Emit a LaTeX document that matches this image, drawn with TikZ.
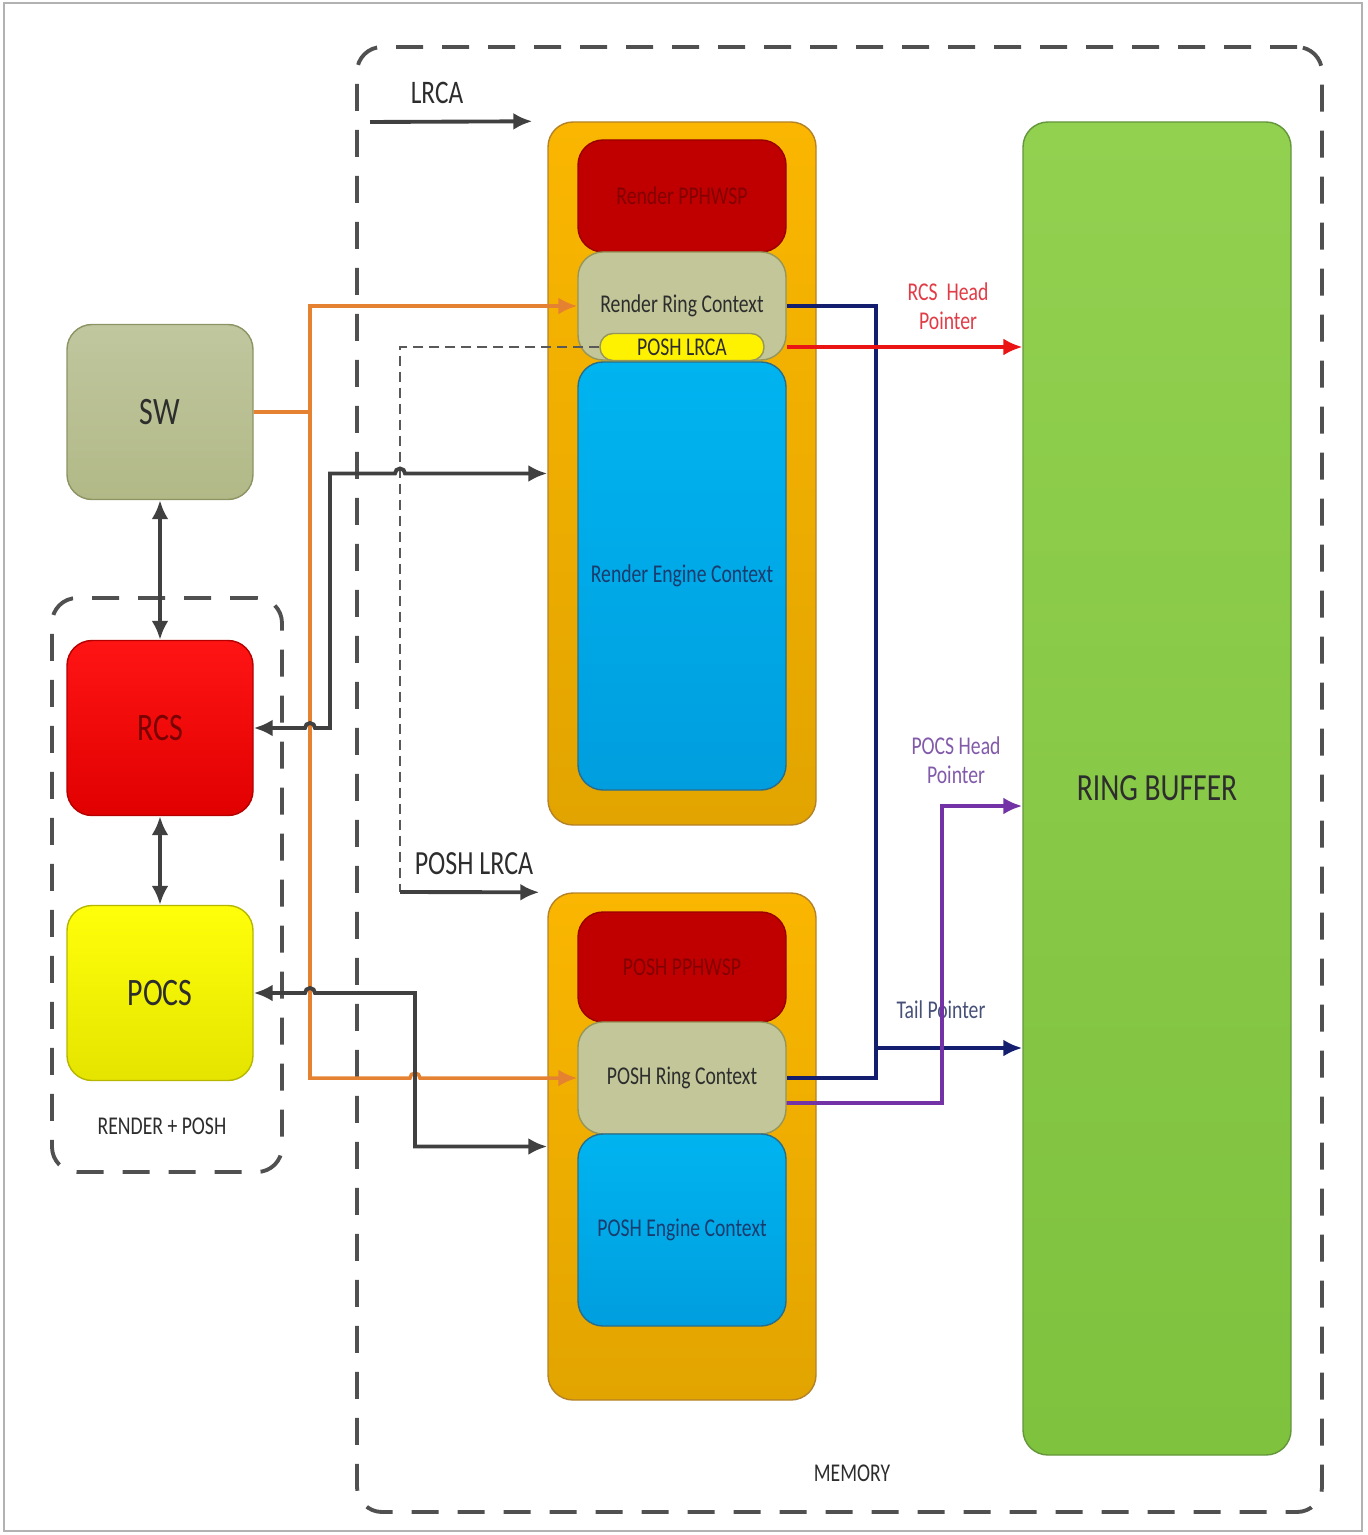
\documentclass[tikz,border=0pt]{standalone}
\usepackage{fontspec}
\setmainfont{Carlito}
\usepackage{graphicx}
\usetikzlibrary{arrows.meta,positioning,calc}
\definecolor{memline}{RGB}{80,80,80}
\definecolor{wireline}{RGB}{64,64,64}
\definecolor{darktext}{RGB}{45,45,45}
\definecolor{swtop}{RGB}{192,198,158}
\definecolor{swbot}{RGB}{178,185,135}
\definecolor{swedge}{RGB}{140,148,100}
\definecolor{rcstop}{RGB}{255,20,20}
\definecolor{rcsbot}{RGB}{225,0,0}
\definecolor{rcstext}{RGB}{120,0,0}
\definecolor{pocstop}{RGB}{255,255,10}
\definecolor{pocsbot}{RGB}{228,228,0}
\definecolor{ctxtop}{RGB}{250,182,0}
\definecolor{ctxbot}{RGB}{226,164,0}
\definecolor{ctxedge}{RGB}{180,130,40}
\definecolor{pphred}{RGB}{192,0,0}
\definecolor{pphtext}{RGB}{130,0,0}
\definecolor{ringolive}{RGB}{194,198,152}
\definecolor{ringedge}{RGB}{150,150,90}
\definecolor{engtop}{RGB}{0,180,240}
\definecolor{engbot}{RGB}{0,158,222}
\definecolor{engedge}{RGB}{40,110,140}
\definecolor{engtext}{RGB}{25,60,110}
\definecolor{rbtop}{RGB}{146,208,80}
\definecolor{rbbot}{RGB}{126,194,62}
\definecolor{rbedge}{RGB}{100,150,60}
\definecolor{swwire}{RGB}{228,130,50}
\definecolor{tailnavy}{RGB}{20,30,110}
\definecolor{tailtext}{RGB}{70,80,120}
\definecolor{headred}{RGB}{235,20,20}
\definecolor{headredtext}{RGB}{225,60,70}
\definecolor{headpurple}{RGB}{115,50,165}
\definecolor{headpurpletext}{RGB}{130,90,170}
\newcommand{\tallt}[1]{\scalebox{1}[1.3]{#1}}
\tikzset{
    unit/.style={rectangle, rounded corners=2.5mm, minimum width=1.86cm, minimum height=1.75cm, inner sep=0pt, font=\fontsize{8.5}{10}\selectfont},
    container/.style={rectangle, rounded corners=2.5mm, draw=ctxedge, top color=ctxtop, bottom color=ctxbot, minimum width=2.68cm, inner sep=0pt},
    part/.style={rectangle, rounded corners=2.5mm, minimum width=2.08cm, inner sep=0pt, font=\fontsize{5.6}{6.5}\selectfont},
    dashbox/.style={rectangle, draw=memline, line width=1.1pt, dash pattern=on 2.7mm off 1.9mm, rounded corners=2.5mm, inner sep=0pt},
    tag/.style={inner sep=0pt, align=center, font=\fontsize{5.6}{8.2}\selectfont},
    wire/.style={draw=wireline, line width=1.1pt},
    orangewire/.style={draw=swwire, line width=1pt},
    navywire/.style={draw=tailnavy, line width=1.1pt},
    redwire/.style={draw=headred, line width=0.9pt},
    purplewire/.style={draw=headpurple, line width=1.1pt},
    dashwire/.style={draw=gray!70!black, line width=0.6pt, dash pattern=on 1mm off 0.6mm}
}
\begin{document}
\begin{tikzpicture}[x=0.1mm, y=-0.1mm, >={Latex[length=1.9mm, width=1.7mm]}]
    \useasboundingbox (0,0) rectangle (1367,1535);
    \draw[gray!60, line width=0.6pt] (4,3) rectangle (1362,1531);

    % Memory region
    \node[dashbox, minimum width=9.65cm, minimum height=14.65cm] (mem) at (839.5,779.5) {};
    \node[tag, text=darktext] (memlbl) at (852,1473) {\tallt{MEMORY}};

    % Render context image
    \node[container, minimum height=7.03cm] (rcont) at (682,473.5) {};
    \node[part, fill=pphred, draw=pphred!80!black, text=pphtext, minimum height=1.12cm] (rpph) at (682,196) {\tallt{Render PPHWSP}};
    \node[part, fill=ringolive, draw=ringedge, text=darktext, minimum height=1.08cm] (rring) at (682,306) {\tallt{Render Ring Context}};
    \node[part, top color=engtop, bottom color=engbot, draw=engedge, text=engtext, minimum height=4.28cm] (reng) at (682,576) {\tallt{Render Engine Context}};
    \node[part, rounded corners=1.3mm, fill=yellow, draw=ringedge, text=darktext, minimum width=1.64cm, minimum height=0.27cm] (pill) at (682,347) {\tallt{POSH LRCA}};

    % POSH context image
    \node[container, minimum height=5.07cm] (pcont) at (682,1146.5) {};
    \node[part, fill=pphred, draw=pphred!80!black, text=pphtext, minimum height=1.10cm] (ppph) at (682,967) {\tallt{POSH PPHWSP}};
    \node[part, fill=ringolive, draw=ringedge, text=darktext, minimum height=1.12cm] (pring) at (682,1078) {\tallt{POSH Ring Context}};
    \node[part, top color=engtop, bottom color=engbot, draw=engedge, text=engtext, minimum height=1.92cm] (peng) at (682,1230) {\tallt{POSH Engine Context}};

    % Ring buffer
    \node[rectangle, rounded corners=2.5mm, top color=rbtop, bottom color=rbbot, draw=rbedge, text=darktext, minimum width=2.68cm, minimum height=13.33cm, font=\fontsize{8.4}{10}\selectfont] (rb) at (1157,788.5) {\tallt{RING BUFFER}};

    % Software and command streamers
    \node[dashbox, minimum width=2.3cm, minimum height=5.74cm] (grp) at (167,885) {};
    \node[tag, text=darktext] (grplbl) at (162,1126) {\tallt{RENDER + POSH}};
    \node[unit, top color=swtop, bottom color=swbot, draw=swedge, text=darktext] (sw) at (160,412) {\tallt{SW}};
    \node[unit, top color=rcstop, bottom color=rcsbot, draw=rcsbot!80!black, text=rcstext] (rcs) at (160,728) {\tallt{RCS}};
    \node[unit, top color=pocstop, bottom color=pocsbot, draw=pocsbot!80!black, text=darktext] (pocs) at (160,993) {\tallt{POCS}};

    % Labels
    \node[inner sep=0pt, text=darktext, font=\fontsize{7.2}{9}\selectfont] (lrcalbl) at (437,93) {\tallt{LRCA}};
    \node[inner sep=0pt, text=darktext, font=\fontsize{7.4}{9}\selectfont] (plrcalbl) at (474,864) {\tallt{POSH LRCA}};
    \node[tag, text=headredtext] (rcshead) at (948,306) {\tallt{RCS\ \ Head}\\\tallt{Pointer}};
    \node[tag, text=headpurpletext] (pocshead) at (956,760) {\tallt{POCS Head}\\\tallt{Pointer}};
    \node[tag, text=tailtext] (taillbl) at (941,1010) {\tallt{Tail Pointer}};

    % SW / RCS / POCS
    \draw[wire, <->] (sw) -- (rcs);
    \draw[wire, <->] (rcs) -- (pocs);

    % SW writes the ring contexts
    \draw[orangewire, ->] (sw.east) -- (310,412) |- (rring.west);
    \draw[orangewire, ->] (sw.east) -- (310,412) -- (310,1078) -- (410,1078) arc[start angle=180, end angle=360, radius=5] -- (pring.west);

    % LRCA pointers
    \coordinate (lrca) at (370,122);
    \draw[wire, ->] (lrca) -- ([xshift=-1.5mm]rcont.north west);
    \coordinate (plrca) at (400,892);
    \draw[dashwire] (pill.west) -| (plrca);
    \draw[wire, ->] (plrca) -- ([xshift=-0.8mm]pcont.north west);

    % Engine context save / restore
    \draw[wire, <->] (rcs.east) -- (305,728) arc[start angle=180, end angle=360, radius=5] -- (330,728) |- (395,473.5) arc[start angle=180, end angle=360, radius=5] -- (rcont.west);
    \draw[wire, <->] (pocs.east) -- (305,993) arc[start angle=180, end angle=360, radius=5] -- (415,993) |- (pcont.west);

    % Head and tail pointers
    \coordinate (tail) at (876,1048);
    \draw[navywire] (rring.east) -| (tail);
    \draw[navywire, ->] (pring.east) -| (tail) -- (tail -| rb.west);
    \draw[redwire, ->] (rring.east |- pill) -- (rb.west |- pill);
    \draw[purplewire, ->] ([yshift=-2.5mm]pring.east) -| (942,806) -- ([yshift=-1.75mm]rb.west);
\end{tikzpicture}
\end{document}
